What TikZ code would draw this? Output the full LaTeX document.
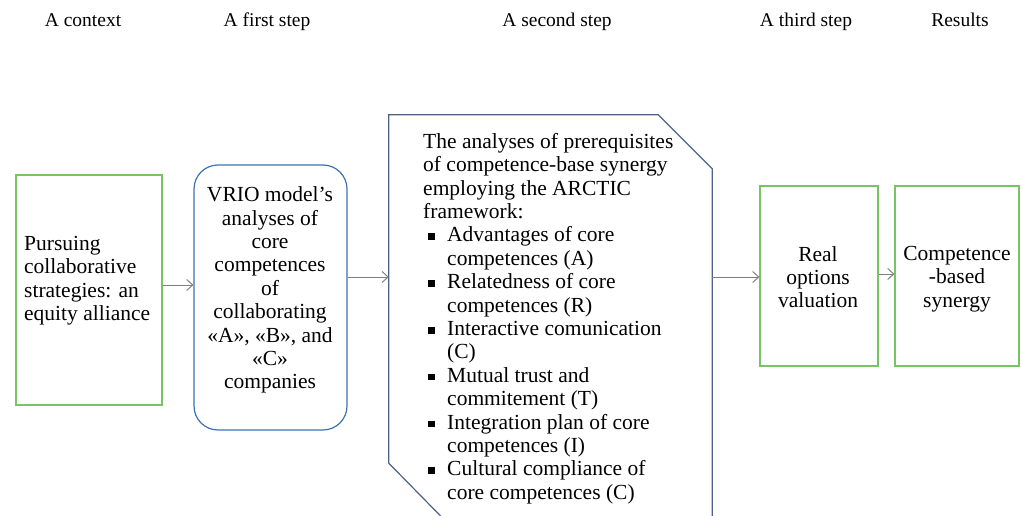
\documentclass[tikz,border=0pt]{standalone}
\usepackage{fontspec}
\setmainfont{Liberation Serif}
\usetikzlibrary{calc}
\usetikzlibrary{arrows.meta}

\definecolor{boxgreen}{RGB}{120,196,100}
\definecolor{boxblue}{RGB}{62,112,180}
\definecolor{boxslate}{RGB}{80,98,130}
\definecolor{arrowgray}{RGB}{128,128,128}

% square bullet and hanging indent of the list
\newcommand{\sqitem}{\makebox[24pt][l]{\hspace{5pt}\rule[2pt]{6.5pt}{6.5pt}}}
\newcommand{\hangitem}{\hspace*{24pt}}

\tikzset{
  boxtext/.style={inner sep=0pt, font=\fontsize{21.5}{23.4}\selectfont},
  headtext/.style={inner sep=0pt, anchor=base, font=\fontsize{19.5}{20}\selectfont},
  greenbox/.style={draw=boxgreen, line width=1.2pt, inner sep=0pt},
  flow/.style={draw=arrowgray, line width=1pt, -{Straight Barb[length=6pt,width=11pt]}}
}

\begin{document}
\begin{tikzpicture}[x=1pt,y=-1pt]
            \useasboundingbox (0,0) rectangle (1022,516);

            % Column headings
            \node[headtext] (hctx) at (83,27) {A context};
            \node[headtext] (hfirst) at (267,27) {A first step};
            \node[headtext] (hsecond) at (557,27) {A second step};
            \node[headtext] (hthird) at (806,27) {A third step};
            \node[headtext] (hres) at (960,27) {Results};

            % Boxes
            \node[greenbox, minimum width=146pt, minimum height=230pt] (ctx) at (89,290) {};
            \node[draw=boxblue, line width=1.2pt, rounded corners=24pt, minimum width=153pt, minimum height=265pt] (vrio) at (270.5,297.5) {};
            \node[minimum width=323pt, minimum height=401pt, inner sep=0pt] (arctic) at (550.5,315.5) {};
            \node[greenbox, minimum width=118pt, minimum height=180pt] (real) at (819,276) {};
            \node[greenbox, minimum width=124pt, minimum height=180pt] (syn) at (957,276) {};

            % Chamfered outline of the second step
            \coordinate (A1) at ($(arctic.north west)$);
            \coordinate (A2) at ($(arctic.north east)+(-54,0)$);
            \coordinate (A3) at ($(arctic.north east)+(0,54)$);
            \coordinate (A4) at ($(arctic.south east)+(0,1)$);
            \coordinate (A5) at ($(arctic.south west)+(53,1)$);
            \coordinate (A6) at ($(arctic.south west)+(0,-53)$);
            \draw[boxslate, line width=1.2pt] (A4) -- (A3) -- (A2) -- (A1) -- (A6) -- (A5);

            % Texts in the boxes
            \node[boxtext, anchor=north west, align=left] (ctxtext) at (24,236) {Pursuing\\ collaborative\\ strategies: an\\ equity alliance};
            \node[boxtext, anchor=north, align=center] (vriotext) at (270,186.5) {VRIO model’s\\ analyses of\\ core\\ competences\\ of\\ collaborating\\ «A», «B», and\\ «C»\\ companies};
            \node[boxtext, anchor=north west, align=left] (arctictext) at (423,133) {The analyses of prerequisites\\ of competence-base synergy\\ employing the ARCTIC\\ framework:\\
              \sqitem Advantages of core\\ \hangitem competences (A)\\
              \sqitem Relatedness of core\\ \hangitem competences (R)\\
              \sqitem Interactive comunication\\ \hangitem (C)\\
              \sqitem Mutual trust and\\ \hangitem commitement (T)\\
              \sqitem Integration plan of core\\ \hangitem competences (I)\\
              \sqitem Cultural compliance of\\ \hangitem core competences (C)};
            \node[boxtext, anchor=north, align=center] (realtext) at (818,246) {Real\\ options\\ valuation};
            \node[boxtext, anchor=north, align=center] (syntext) at (957,246) {Competence\\ -based\\ synergy};

            % Arrows between the steps
            \draw[flow] ([yshift=5pt]ctx.east) -- ([yshift=5pt]ctx.east -| vrio.west);
            \draw[flow] ([yshift=20.5pt]vrio.east) -- ([yshift=20.5pt]vrio.east -| arctic.west);
            \draw[flow] ([yshift=38.5pt]arctic.east) -- ([yshift=38.5pt]arctic.east -| real.west);
            \draw[flow] ([yshift=2pt]real.east) -- ([yshift=2pt]real.east -| syn.west);
        \end{tikzpicture}
\end{document}
